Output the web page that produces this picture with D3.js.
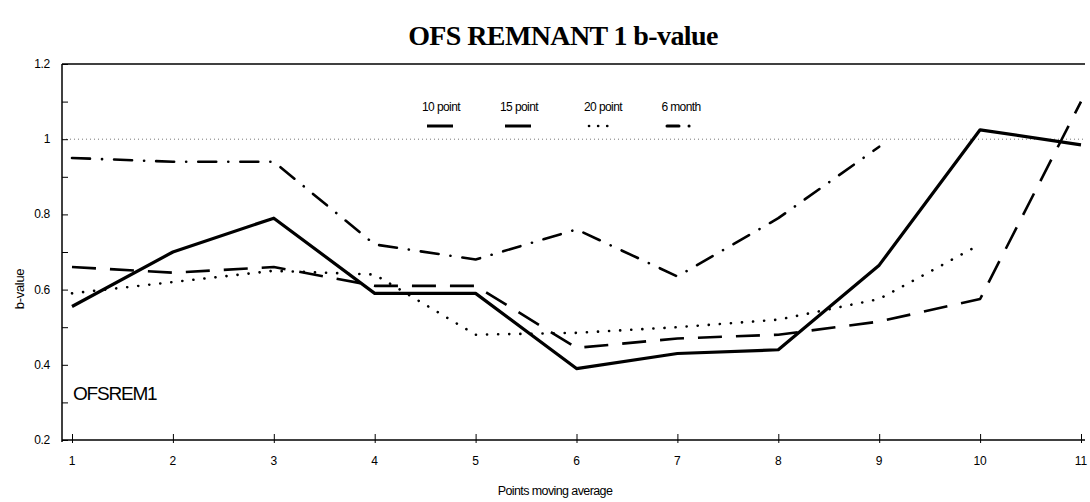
<!DOCTYPE html>
<html>
<head>
<meta charset="utf-8">
<script src="https://cdn.jsdelivr.net/npm/d3@7"></script>
<style>
  html, body { margin: 0; padding: 0; background: #fff; }
  svg { display: block; }
</style>
</head>
<body>
<svg id="chart" width="1090" height="502"></svg>
<script>
// Moving-average window positions along the x axis
const positions = [1, 2, 3, 4, 5, 6, 7, 8, 9, 10, 11];

// b-value series (null where a series has no value)
const tenPoint     = [0.555, 0.70, 0.79, 0.59, 0.59, 0.39, 0.43, 0.44, 0.665, 1.025, 0.985];
const fifteenPoint = [0.66, 0.645, 0.66, 0.61, 0.61, 0.445, 0.47, 0.48, 0.515, 0.575, 1.10];
const twentyPoint  = [0.59, 0.62, 0.65, 0.64, 0.48, 0.485, 0.50, 0.52, 0.575, 0.72, null];
const sixMonth     = [0.95, 0.94, 0.94, 0.72, 0.68, 0.76, 0.635, 0.79, 0.98, null, null];

const seriesNames = ["10 point", "15 point", "20 point", "6 month"];
const yTickValues = [0.2, 0.4, 0.6, 0.8, 1, 1.2];
const yTickLabels = ["0.2", "0.4", "0.6", "0.8", "1", "1.2"];

const svg = d3.select("#chart");
const W = 1090, H = 502;
const margin = { left: 62, right: 5, top: 64, bottom: 62 };

const x = d3.scaleLinear().domain([1, 11]).range([72, 1081]);
const y = d3.scaleLinear().domain([0.2, 1.2]).range([440, 64]);

const sans = "'Liberation Sans', Arial, sans-serif";

// Title
svg.append("text")
  .attr("x", 563).attr("y", 45)
  .attr("text-anchor", "middle")
  .attr("font-family", "'Liberation Serif', 'Times New Roman', serif")
  .attr("font-weight", "bold")
  .attr("font-size", 28)
  .attr("letter-spacing", -0.6)
  .text("OFS REMNANT 1 b-value");

// Top frame line and dotted reference line at 1.0
svg.append("line")
  .attr("x1", margin.left).attr("x2", W - margin.right)
  .attr("y1", y(1.2)).attr("y2", y(1.2))
  .attr("stroke", "#000").attr("stroke-width", 1.5);

svg.append("line")
  .attr("x1", margin.left).attr("x2", W - margin.right)
  .attr("y1", y(1)).attr("y2", y(1))
  .attr("stroke", "#777").attr("stroke-width", 1)
  .attr("stroke-dasharray", "1,3");

// Y axis: ticks point inward, minor ticks every 0.1
const yAxis = d3.axisRight(y)
  .tickValues(d3.range(0.2, 1.21, 0.1).map(v => +v.toFixed(1)))
  .tickSize(6)
  .tickFormat("");
const gy = svg.append("g").attr("transform", `translate(${margin.left},0)`).call(yAxis);
gy.select(".domain").attr("stroke", "#000").attr("stroke-width", 1.5)
  .attr("d", `M0,${y(1.2)}V${y(0.2) + 2}`);
gy.selectAll(".tick line").attr("stroke", "#000").attr("stroke-width", 1);

// Y tick labels
svg.append("g").selectAll("text")
  .data(yTickValues)
  .join("text")
  .attr("x", margin.left - 12)
  .attr("y", d => y(d) + 4)
  .attr("text-anchor", "end")
  .attr("font-family", sans)
  .attr("font-size", 12)
  .attr("letter-spacing", -0.3)
  .text((d, i) => yTickLabels[i]);

// X axis: short upward ticks
const xAxis = d3.axisTop(x).tickValues(positions).tickSize(6).tickFormat("");
const gx = svg.append("g").attr("transform", `translate(0,${y(0.2)})`).call(xAxis);
gx.select(".domain").attr("stroke", "#000").attr("stroke-width", 1.5)
  .attr("d", `M${margin.left},0H${W - margin.right}`);
gx.selectAll(".tick line").attr("stroke", "#000").attr("stroke-width", 1)
  .attr("y1", 3);

svg.append("g").selectAll("text")
  .data(positions)
  .join("text")
  .attr("x", d => x(d))
  .attr("y", y(0.2) + 25)
  .attr("text-anchor", "middle")
  .attr("font-family", sans)
  .attr("font-size", 12)
  .text(d => d);

// Axis titles
svg.append("text")
  .attr("x", 555).attr("y", 495)
  .attr("text-anchor", "middle")
  .attr("font-family", sans)
  .attr("font-size", 12.5)
  .attr("letter-spacing", -0.6)
  .text("Points moving average");

svg.append("text")
  .attr("transform", `translate(24,289) rotate(-90)`)
  .attr("text-anchor", "middle")
  .attr("font-family", sans)
  .attr("font-size", 13)
  .attr("letter-spacing", -0.3)
  .text("b-value");

// Station label
svg.append("text")
  .attr("x", 73).attr("y", 400)
  .attr("font-family", sans)
  .attr("font-size", 19)
  .attr("letter-spacing", -1.2)
  .text("OFSREM1");

// Line styles for each series
const styles = [
  { data: tenPoint,     width: 3.2, dash: null,            cap: "butt"  },
  { data: fifteenPoint, width: 2.6, dash: "24,14",         cap: "butt"  },
  { data: twentyPoint,  width: 2.6, dash: "0.1,11",        cap: "round" },
  { data: sixMonth,     width: 2.6, dash: "18,12,0.1,12",  cap: "round" }
];

const line = d3.line()
  .defined(d => d[1] != null)
  .x(d => x(d[0]))
  .y(d => y(d[1]));

const lines = svg.append("g").attr("fill", "none").attr("stroke", "#000");
styles.forEach(s => {
  lines.append("path")
    .datum(positions.map((p, i) => [p, s.data[i]]))
    .attr("d", line)
    .attr("stroke-width", s.width)
    .attr("stroke-linecap", s.cap)
    .attr("stroke-linejoin", "round")
    .attr("stroke-dasharray", s.dash);
});

// Legend
const legendX = [441, 519, 603, 681];
const lg = svg.append("g");
seriesNames.forEach((name, i) => {
  lg.append("text")
    .attr("x", legendX[i]).attr("y", 111)
    .attr("text-anchor", "middle")
    .attr("font-family", sans)
    .attr("font-size", 12)
    .attr("letter-spacing", -0.6)
    .text(name);
});
const sampleDash = [null, null, "0.1,9", "12,10,0.1,10"];
const sampleW = [3, 3, 2.6, 3];
seriesNames.forEach((name, i) => {
  lg.append("line")
    .attr("x1", legendX[i] - 14).attr("x2", legendX[i] + (i === 3 ? 16 : 12))
    .attr("y1", 126).attr("y2", 126)
    .attr("stroke", "#000")
    .attr("stroke-width", sampleW[i])
    .attr("stroke-linecap", i >= 2 ? "round" : "butt")
    .attr("stroke-dasharray", sampleDash[i]);
});
</script>
</body>
</html>
